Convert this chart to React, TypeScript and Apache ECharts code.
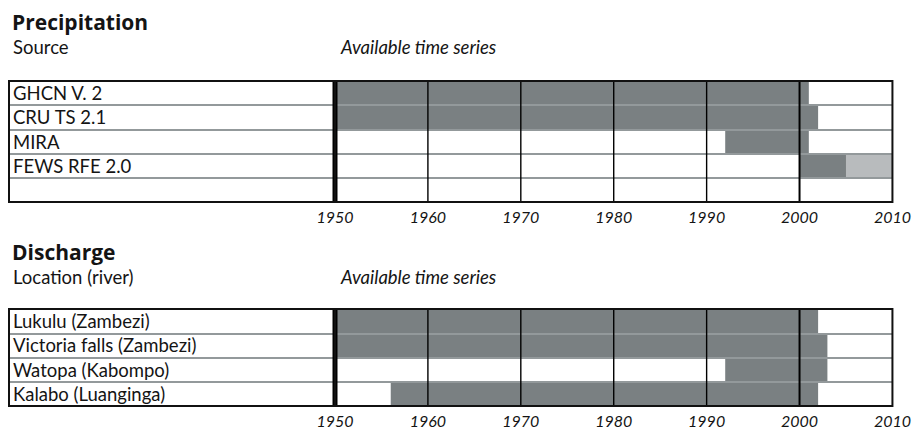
import React, { useEffect, useRef } from 'react';
import * as echarts from 'echarts';

// ---- data ----
const decadeTicks = [1950, 1960, 1970, 1980, 1990, 2000, 2010];
const decadeLines = [1950, 1960, 1970, 1980, 1990, 2000];

const precipSources = ['GHCN V. 2', 'CRU TS 2.1', 'MIRA', 'FEWS RFE 2.0', ''];
const precipSegments: [string, number, number, string][] = [
  ['GHCN V. 2', 1950, 2001, 'available'],
  ['CRU TS 2.1', 1950, 2002, 'available'],
  ['MIRA', 1992, 2001, 'available'],
  ['FEWS RFE 2.0', 2000, 2005, 'available'],
  ['FEWS RFE 2.0', 2005, 2010, 'partial'],
];

const dischargeLocations = [
  'Lukulu (Zambezi)',
  'Victoria falls (Zambezi)',
  'Watopa (Kabompo)',
  'Kalabo (Luanginga)',
];
const dischargeSegments: [string, number, number, string][] = [
  ['Lukulu (Zambezi)', 1950, 2002, 'available'],
  ['Victoria falls (Zambezi)', 1950, 2003, 'available'],
  ['Watopa (Kabompo)', 1992, 2003, 'available'],
  ['Kalabo (Luanginga)', 1956, 2002, 'available'],
];

// ---- styles ----
const FONT = 'Lato';
const TITLE_FONT = 'Open Sans';
const DARK = '#7a8082';
const LIGHT = '#b8bbbd';
const SEP = '#93999b';
const BORDER = '#111111';
const TEXT = '#141414';

function segData(rows: string[], segs: [string, number, number, string][]) {
  return segs.map((s) => [rows.indexOf(s[0]), s[1], s[2], s[3] === 'partial' ? 1 : 0]);
}

const barRender = (params: any, api: any) => {
  const row = api.value(0);
  const p0 = api.coord([api.value(1), row]);
  const p1 = api.coord([api.value(2), row]);
  const h = api.size([0, 1])[1];
  return {
    type: 'rect',
    shape: { x: p0[0], y: p0[1] - h / 2, width: p1[0] - p0[0], height: h },
    style: { fill: api.value(3) === 1 ? LIGHT : DARK },
  };
};

const lineRender = (params: any, api: any) => {
  const year = api.value(0);
  const x = api.coord([year, 0])[0];
  const cs = params.coordSys;
  return {
    type: 'line',
    shape: { x1: x, y1: cs.y, x2: x, y2: cs.y + cs.height },
    style: { stroke: '#000', lineWidth: year === 1950 ? 5 : year === 2000 ? 2 : 1.4 },
  };
};

function gridBox(left: number, top: number, width: number, height: number) {
  return { left, top, width, height, show: true, borderColor: BORDER, borderWidth: 2, backgroundColor: 'transparent', z: 5 };
}

function dataX(gridIndex: number) {
  return {
    gridIndex,
    type: 'value',
    min: decadeTicks[0],
    max: decadeTicks[decadeTicks.length - 1],
    interval: 10,
    axisLine: { show: false },
    axisTick: { show: false },
    splitLine: { show: false },
    axisLabel: {
      show: true,
      margin: 6,
      formatter: (v: number) => String(v),
      fontFamily: FONT,
      fontStyle: 'italic',
      fontSize: 16,
      lineHeight: 16,
      color: TEXT,
    },
  };
}

function hiddenX(gridIndex: number) {
  return { gridIndex, type: 'value', min: 0, max: 1, show: false };
}

function catY(gridIndex: number, rows: string[], withLabels: boolean) {
  return {
    gridIndex,
    type: 'category',
    data: rows,
    inverse: true,
    z: 3,
    axisLine: { show: false },
    axisTick: { show: false },
    splitLine: { show: true, interval: 0, lineStyle: { color: SEP, width: 2 } },
    axisLabel: {
      show: withLabels,
      inside: true,
      interval: 0,
      margin: 4,
      align: 'left',
      padding: [6, 0, 0, 0],
      fontFamily: FONT,
      fontSize: 18.5,
      color: TEXT,
    },
  };
}

function txt(text: string, x: number, y: number, extra: any) {
  return {
    type: 'text',
    x,
    y,
    silent: true,
    style: { text, fill: TEXT, verticalAlign: 'middle', align: 'left', fontFamily: FONT, fontSize: 18.5, ...extra },
  };
}

export default function App() {
  const ref = useRef<HTMLDivElement>(null);
  useEffect(() => {
    if (!ref.current) return;
    const chart = echarts.init(ref.current, null, { renderer: 'svg' });
    const option: any = {
      animation: false,
      graphic: [
        txt('Precipitation', 12, 22, { fontFamily: TITLE_FONT, fontWeight: 'bold', fontSize: 21 }),
        txt('Source', 13, 47, {}),
        txt('Available time series', 341, 47, { fontStyle: 'italic' }),
        txt('Discharge', 12, 252, { fontFamily: TITLE_FONT, fontWeight: 'bold', fontSize: 21 }),
        txt('Location (river)', 13, 277, {}),
        txt('Available time series', 341, 277, { fontStyle: 'italic' }),
      ],
      grid: [
        gridBox(9, 81, 326, 121),
        gridBox(335, 81, 560, 121),
        gridBox(9, 309, 326, 97),
        gridBox(335, 309, 560, 97),
      ],
      xAxis: [hiddenX(0), dataX(1), hiddenX(2), dataX(3)],
      yAxis: [
        catY(0, precipSources, true),
        catY(1, precipSources, false),
        catY(2, dischargeLocations, true),
        catY(3, dischargeLocations, false),
      ],
      series: [
        {
          type: 'custom',
          name: 'Precipitation',
          xAxisIndex: 1,
          yAxisIndex: 1,
          z: 2,
          silent: true,
          encode: { x: [1, 2], y: 0 },
          data: segData(precipSources, precipSegments),
          renderItem: barRender,
        },
        {
          type: 'custom',
          name: 'Discharge',
          xAxisIndex: 3,
          yAxisIndex: 3,
          z: 2,
          silent: true,
          encode: { x: [1, 2], y: 0 },
          data: segData(dischargeLocations, dischargeSegments),
          renderItem: barRender,
        },
        {
          type: 'custom',
          xAxisIndex: 1,
          yAxisIndex: 1,
          z: 4,
          silent: true,
          encode: { x: 0 },
          data: decadeLines.map((d) => [d]),
          renderItem: lineRender,
        },
        {
          type: 'custom',
          xAxisIndex: 3,
          yAxisIndex: 3,
          z: 4,
          silent: true,
          encode: { x: 0 },
          data: decadeLines.map((d) => [d]),
          renderItem: lineRender,
        },
      ],
    };
    chart.setOption(option);
    return () => chart.dispose();
  }, []);
  return (
    <div
      ref={ref}
      style={{ position: 'absolute', left: 0, top: 0, width: 914, height: 429, background: '#fff' }}
    />
  );
}
